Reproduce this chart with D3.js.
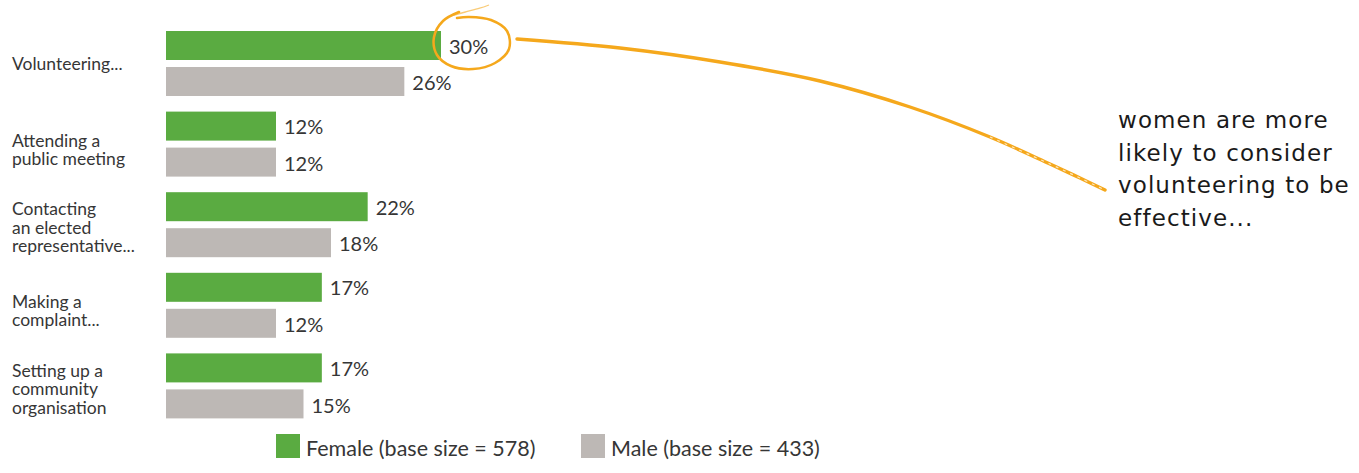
<!DOCTYPE html>
<html>
<head>
<meta charset="utf-8">
<script src="https://cdn.jsdelivr.net/npm/d3@7/dist/d3.min.js"></script>
<style>
  html, body { margin: 0; padding: 0; background: #fff; }
  svg { display: block; }
</style>
</head>
<body>
<svg id="chart" width="1359" height="473"></svg>
<script>
// Share rating each action as effective, by gender
const categories = [
  ["Volunteering..."],
  ["Attending a", "public meeting"],
  ["Contacting", "an elected", "representative..."],
  ["Making a", "complaint..."],
  ["Setting up a", "community", "organisation"]
];
const femaleValues = [30, 12, 22, 17, 17];
const maleValues = [26, 12, 18, 12, 15];
const seriesNames = ["Female (base size = 578)", "Male (base size = 433)"];
const noteLines = ["women are more", "likely to consider", "volunteering to be", "effective..."];

const GREEN = "#5aab41";
const GREY = "#bdb8b5";
const ORANGE = "#f5a81c";
const TEXT = "#363636";
const FONT = "Lato, 'Open Sans', sans-serif";

const svg = d3.select("#chart");

const x = d3.scaleLinear().domain([0, 30]).range([166, 441]);
const y = d3.scaleBand().domain(d3.range(categories.length)).range([31, 434]).paddingInner(0).paddingOuter(0);
const barH = 29, barGap = 7;

const groups = svg.selectAll("g.cat").data(categories.map((c, i) => ({
  lines: c, f: femaleValues[i], m: maleValues[i], i
}))).join("g").attr("class", "cat")
  .attr("transform", d => `translate(0,${y(d.i)})`);

// bars
groups.append("rect")
  .attr("x", x(0)).attr("y", 0)
  .attr("width", d => x(d.f) - x(0)).attr("height", barH)
  .attr("fill", GREEN);
groups.append("rect")
  .attr("x", x(0)).attr("y", barH + barGap)
  .attr("width", d => x(d.m) - x(0)).attr("height", barH)
  .attr("fill", GREY);

// value labels
groups.append("text")
  .attr("x", d => x(d.f) + 8).attr("y", barH / 2 + 1)
  .attr("dy", "0.36em")
  .attr("font-family", FONT).attr("font-size", 20).attr("fill", TEXT)
  .text(d => d.f + "%");
groups.append("text")
  .attr("x", d => x(d.m) + 8).attr("y", barH + barGap + barH / 2 + 1.5)
  .attr("dy", "0.36em")
  .attr("font-family", FONT).attr("font-size", 20).attr("fill", TEXT)
  .text(d => d.m + "%");

// category labels, stacked beside each pair of bars
const mid = barH + barGap / 2;
const firstLineShift = { 1: 6.5, 2: 2.5, 3: -9.3 };
groups.append("text")
  .attr("font-family", FONT).attr("font-size", 17.5).attr("fill", TEXT)
  .each(function(d) {
    const first = mid + firstLineShift[d.lines.length];
    d3.select(this).selectAll("tspan").data(d.lines).join("tspan")
      .attr("x", 12)
      .attr("y", (t, k) => first + k * 18.5)
      .text(t => t);
  });

// legend
const legend = svg.append("g").attr("transform", "translate(276,434)");
const legendItems = legend.selectAll("g").data(seriesNames).join("g")
  .attr("transform", (d, i) => `translate(${i * 305},0)`);
legendItems.append("rect").attr("width", 24).attr("height", 24)
  .attr("fill", (d, i) => i === 0 ? GREEN : GREY);
legendItems.append("text")
  .attr("x", 30).attr("y", 22)
  .attr("font-family", FONT).attr("font-size", 21.5).attr("fill", TEXT)
  .text(d => d);

// hand-drawn highlight ring around the top value
const ring = d3.line().curve(d3.curveCatmullRom.alpha(0.5));
const cx = x(femaleValues[0]) + 30, cy = y(0) + 12;
const ringPts = [
  [cx - 12, cy - 31], [cx - 28, cy - 22], [cx - 37, cy - 6], [cx - 34, cy + 12],
  [cx - 20, cy + 23], [cx + 2, cy + 26], [cx + 24, cy + 20], [cx + 38, cy + 6],
  [cx + 36, cy - 12], [cx + 20, cy - 23], [cx - 2, cy - 26], [cx - 14, cy - 25]
];
svg.append("path")
  .attr("d", ring(ringPts))
  .attr("fill", "none").attr("stroke", ORANGE).attr("stroke-width", 2.5)
  .attr("stroke-linecap", "round");
svg.append("path")
  .attr("d", d3.line().curve(d3.curveBasis)([[cx - 20, cy - 27], [cx - 6, cy - 31], [cx + 10, cy - 35], [cx + 18, cy - 38]]))
  .attr("fill", "none").attr("stroke", ORANGE).attr("stroke-width", 1.3).attr("opacity", 0.6);

// connector sweeping toward the note
const sweep = d3.line().curve(d3.curveCatmullRom.alpha(0.5));
const sweepPts = [[517, 39], [620, 48], [720, 62], [820, 81], [910, 107], [990, 137], [1050, 164], [1080, 178], [1105, 190]];
svg.append("path")
  .attr("d", sweep(sweepPts))
  .attr("fill", "none").attr("stroke", ORANGE).attr("stroke-width", 3.4)
  .attr("stroke-linecap", "round");
svg.append("path")
  .attr("d", sweep(sweepPts.slice(5)))
  .attr("fill", "none").attr("stroke", "#fff").attr("stroke-width", 1.2)
  .attr("stroke-dasharray", "3 5").attr("opacity", 0.7);

// note
svg.append("text")
  .attr("font-family", "'DejaVu Sans', sans-serif").attr("font-size", 23)
  .attr("letter-spacing", 1.1)
  .attr("fill", "#1a1a1a")
  .selectAll("tspan").data(noteLines).join("tspan")
  .attr("x", 1118).attr("y", (d, i) => 128 + i * 32.5)
  .text(d => d);
</script>
</body>
</html>
